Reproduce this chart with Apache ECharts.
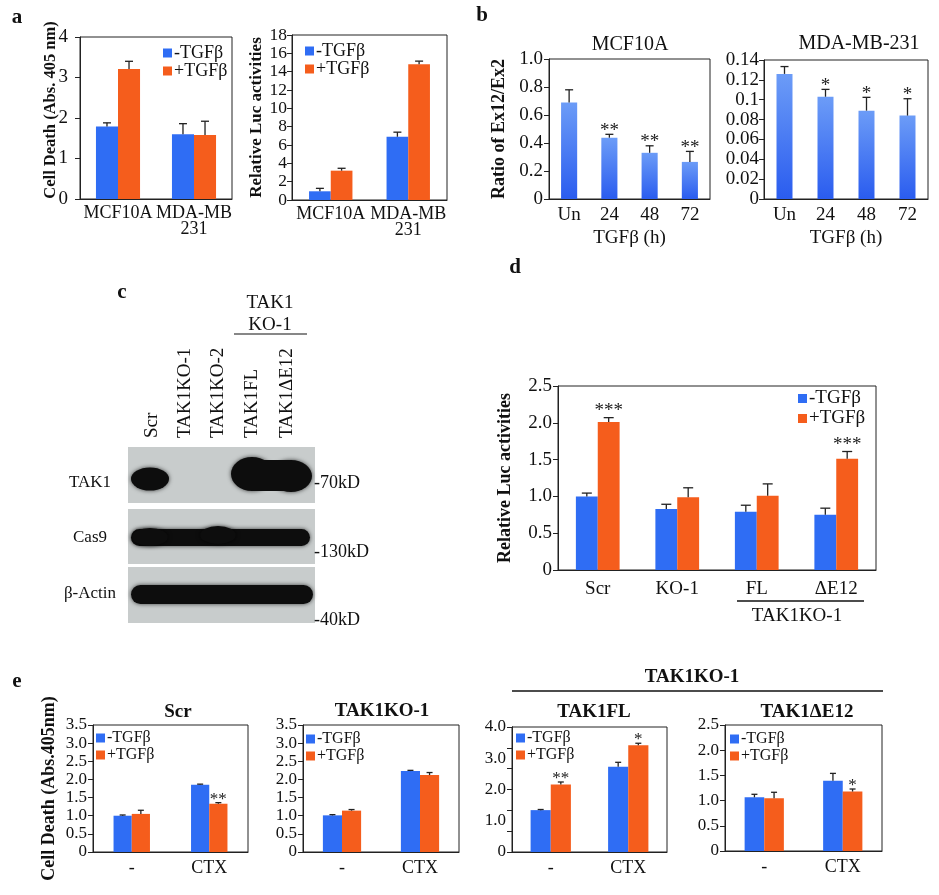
<!DOCTYPE html>
<html><head><meta charset="utf-8">
<script src="https://cdn.jsdelivr.net/npm/echarts@6/dist/echarts.min.js"></script>
<style>html,body{margin:0;padding:0;background:#fff}#c{width:939px;height:895px}</style>
</head><body><div id="c"></div>
<script>
const FONT = '"Liberation Serif","Times New Roman",serif';
const BLUE = '#2f6df4', ORANGE = '#f55d1c';
const LEG = ['-TGFβ', '+TGFβ'];

// ---- panel a ----
const aCats = ['MCF10A', 'MDA-MB\n231'];
const aDeathMinus = [1.79, 1.60], aDeathMinusErr = [0.09, 0.26];
const aDeathPlus = [3.21, 1.58], aDeathPlusErr = [0.19, 0.34];
const aLucMinus = [0.95, 6.9], aLucMinusErr = [0.32, 0.5];
const aLucPlus = [3.2, 14.8], aLucPlusErr = [0.26, 0.35];
// ---- panel b ----
const bCats = ['Un', '24', '48', '72'];
const bMcf = [0.69, 0.438, 0.33, 0.265], bMcfErr = [0.09, 0.024, 0.05, 0.075], bMcfSig = ['', '**', '**', '**'];
const bMda = [0.126, 0.103, 0.089, 0.084], bMdaErr = [0.0074, 0.0074, 0.0134, 0.017], bMdaSig = ['', '*', '*', '*'];
// ---- panel c ----
const cLanes = ['Scr', 'TAK1KO-1', 'TAK1KO-2', 'TAK1FL', 'TAK1ΔE12'];
const cRows = ['TAK1', 'Cas9', 'β-Actin'];
const cSizes = ['-70kD', '-130kD', '-40kD'];
// ---- panel d ----
const dCats = ['Scr', 'KO-1', 'FL', 'ΔE12'];
const dMinus = [1.0, 0.83, 0.79, 0.75], dMinusErr = [0.045, 0.063, 0.09, 0.09];
const dPlus = [2.01, 0.99, 1.01, 1.51], dPlusErr = [0.06, 0.127, 0.16, 0.1], dPlusSig = ['***', '', '', '***'];
// ---- panel e ----
const eCats = ['-', 'CTX'];
const eScrMinus = [1.0, 1.85], eScrMinusErr = [0.02, 0.02];
const eScrPlus = [1.05, 1.33], eScrPlusErr = [0.1, 0.03], eScrSig = ['', '**'];
const eKoMinus = [1.01, 2.23], eKoMinusErr = [0.02, 0.02];
const eKoPlus = [1.14, 2.12], eKoPlusErr = [0.03, 0.07];
const eFlMinus = [1.34, 2.73], eFlMinusErr = [0.02, 0.14];
const eFlPlus = [2.16, 3.42], eFlPlusErr = [0.08, 0.06], eFlSig = ['**', '*'];
const eDeMinus = [1.065, 1.395], eDeMinusErr = [0.06, 0.145];
const eDePlus = [1.045, 1.18], eDePlusErr = [0.12, 0.05], eDeSig = ['', '*'];

const fmt1 = v => v === 0 ? '0' : v.toFixed(1);

const opt = {animation: false, backgroundColor: '#fff', grid: [], xAxis: [], yAxis: [], series: [], legend: [], graphic: []};

function errRender(idx, n, gap, sigs, cap, starSize, starOff) {
  return function (params, api) {
    const k = api.value(0), v = api.value(1), e = api.value(2);
    const p0 = api.coord([k, v]), p1 = api.coord([k, v + e]);
    const band = api.size([1, 0])[0];
    const bw = band * (1 - gap) / n;
    const x = p0[0] + (idx - (n - 1) / 2) * bw;
    const ch = [];
    if (e > 0) {
      ch.push({type: 'line', shape: {x1: x, y1: p0[1], x2: x, y2: p1[1]}, style: {stroke: '#222', lineWidth: 1.3}});
      ch.push({type: 'line', shape: {x1: x - cap, y1: p1[1], x2: x + cap, y2: p1[1]}, style: {stroke: '#222', lineWidth: 1.3}});
    }
    const sig = sigs && sigs[params.dataIndex];
    if (sig) ch.push({type: 'text', x: x, y: p1[1] + starOff, style: {text: sig, fontSize: starSize, fontFamily: FONT, fill: '#222', align: 'center', verticalAlign: 'bottom'}});
    return {type: 'group', children: ch};
  };
}

function panel(p) {
  const gi = opt.grid.length;
  opt.grid.push(Object.assign({show: true, borderColor: '#222', borderWidth: 1, backgroundColor: 'transparent'}, p.grid));
  const xi = opt.xAxis.length;
  opt.xAxis.push({
    type: 'category', gridIndex: gi, data: p.cats,
    axisLine: {lineStyle: {color: '#222', width: 1}},
    axisTick: {length: 5, lineStyle: {color: '#222'}},
    axisLabel: {color: '#111', fontFamily: FONT, fontSize: p.xSize, margin: p.xMargin, lineHeight: p.xSize - 2, interval: 0, hideOverlap: false},
    name: p.xName || '', nameLocation: 'middle', nameGap: p.xNameGap || 0,
    nameTextStyle: {color: '#111', fontFamily: FONT, fontSize: p.xSize}
  });
  const yi = opt.yAxis.length;
  opt.yAxis.push({
    type: 'value', gridIndex: gi, min: p.yMin, max: p.yMax, interval: p.yInt, position: 'left',
    splitLine: {show: false},
    axisLine: {show: true, lineStyle: {color: '#222', width: 1}},
    axisTick: {show: !p.tickAxis, length: 5, lineStyle: {color: '#222'}},
    axisLabel: {color: '#111', fontFamily: FONT, fontSize: p.ySize, margin: p.yMargin, formatter: p.yFmt, hideOverlap: false},
    name: p.yName || '', nameLocation: 'middle', nameRotate: 90, nameGap: p.yNameGap || 0, nameMoveOverlap: false,
    nameTextStyle: {color: '#111', fontFamily: FONT, fontWeight: 'bold', fontSize: p.yNameSize || 15, padding: p.yNamePad || 0}
  });
  if (p.tickAxis) {
    opt.yAxis.push({
      type: 'value', gridIndex: gi, min: p.yMin, max: p.yMax, interval: p.tickAxis, position: 'left',
      splitLine: {show: false}, axisLabel: {show: false},
      axisLine: {show: true, lineStyle: {color: '#222', width: 1}},
      axisTick: {show: true, length: 5, lineStyle: {color: '#222'}}
    });
  }
  const n = p.series.length;
  p.series.forEach((s, idx) => {
    opt.series.push({type: 'bar', name: s.name, xAxisIndex: xi, yAxisIndex: yi, data: s.values,
      barGap: '0%', barCategoryGap: p.gap + '%', itemStyle: {color: s.color}, silent: true});
    opt.series.push({type: 'custom', name: 'err', xAxisIndex: xi, yAxisIndex: yi,
      data: s.values.map((v, k) => [k, v, s.errs[k]]),
      renderItem: errRender(idx, n, p.gap / 100, s.sigs, p.cap, p.starSize || 18, p.starOff == null ? 5 : p.starOff), z: 5, silent: true});
  });
  if (p.legend) {
    opt.legend.push({
      orient: 'vertical', data: LEG, icon: 'rect', itemWidth: 9, itemHeight: 9, itemGap: p.legend.gap,
      padding: 0, left: p.legend.left, top: p.legend.top, selectedMode: false,
      textStyle: {fontFamily: FONT, fontSize: p.legend.size, color: '#111', lineHeight: p.legend.lh, padding: [0, 0, 0, -3]}
    });
  }
}

const gradBlue = {type: 'linear', x: 0, y: 0, x2: 0, y2: 1, colorStops: [{offset: 0, color: '#6c9cf7'}, {offset: 1, color: '#2a5cef'}]};

// a left
panel({grid: {left: 80, top: 37, width: 152, height: 162}, cats: aCats, yMin: 0, yMax: 4, yInt: 1,
  ySize: 19, yMargin: 12, xSize: 18, xMargin: 6, yName: 'Cell Death (Abs. 405 nm)', yNameGap: 21, yNameSize: 16.5, yNamePad: [0, 0, 0, 16],
  gap: 42, cap: 4,
  series: [{name: LEG[0], values: aDeathMinus, errs: aDeathMinusErr, color: BLUE},
           {name: LEG[1], values: aDeathPlus, errs: aDeathPlusErr, color: ORANGE}],
  legend: {left: 163, top: 44, size: 18, lh: 15, gap: 0}});
// a right
panel({grid: {left: 292, top: 35, width: 155, height: 165}, cats: aCats, yMin: 0, yMax: 18, yInt: 2,
  ySize: 17.5, yMargin: 5, xSize: 18, xMargin: 6, yName: 'Relative Luc activities', yNameGap: 27, yNameSize: 17,
  gap: 44, cap: 4,
  series: [{name: LEG[0], values: aLucMinus, errs: aLucMinusErr, color: BLUE},
           {name: LEG[1], values: aLucPlus, errs: aLucPlusErr, color: ORANGE}],
  legend: {left: 305, top: 42, size: 18, lh: 15, gap: 0}});
// b left
panel({grid: {left: 549, top: 59, width: 161, height: 140}, cats: bCats, yMin: 0, yMax: 1, yInt: 0.2, yFmt: fmt1,
  ySize: 19, yMargin: 6, xSize: 19, xMargin: 8, yName: 'Ratio of Ex12/Ex2', yNameGap: 41, yNameSize: 18,
  xName: 'TGFβ (h)', xNameGap: 30, gap: 60, cap: 4, starSize: 19, starOff: 6,
  series: [{name: 'MCF10A', values: bMcf, errs: bMcfErr, sigs: bMcfSig, color: gradBlue}]});
// b right
panel({grid: {left: 764, top: 60, width: 164, height: 139}, cats: bCats, yMin: 0, yMax: 0.14, yInt: 0.02,
  ySize: 19, yMargin: 5, xSize: 19, xMargin: 8,
  xName: 'TGFβ (h)', xNameGap: 30, gap: 61, cap: 4, starSize: 19, starOff: 6,
  series: [{name: 'MDA-MB-231', values: bMda, errs: bMdaErr, sigs: bMdaSig, color: gradBlue}]});
// d
panel({grid: {left: 558, top: 386, width: 318, height: 184}, cats: dCats, yMin: 0, yMax: 2.5, yInt: 0.5, yFmt: fmt1,
  ySize: 19, yMargin: 6, xSize: 19, xMargin: 11, yName: 'Relative Luc activities', yNameGap: 44, yNameSize: 18,
  gap: 45, cap: 5, starSize: 19, starOff: 3,
  series: [{name: LEG[0], values: dMinus, errs: dMinusErr, color: BLUE},
           {name: LEG[1], values: dPlus, errs: dPlusErr, sigs: dPlusSig, color: ORANGE}],
  legend: {left: 798, top: 389, size: 19, lh: 18, gap: 1}});
// e1
panel({grid: {left: 93, top: 725, width: 155, height: 127}, cats: eCats, yMin: 0, yMax: 3.5, yInt: 0.5, yFmt: fmt1,
  ySize: 17, yMargin: 6, xSize: 18, xMargin: 8, yName: 'Cell Death (Abs.405nm)', yNameGap: 35, yNameSize: 18,
  gap: 53, cap: 3, starSize: 17,
  series: [{name: LEG[0], values: eScrMinus, errs: eScrMinusErr, color: BLUE},
           {name: LEG[1], values: eScrPlus, errs: eScrPlusErr, sigs: eScrSig, color: ORANGE}],
  legend: {left: 96, top: 730, size: 16, lh: 15, gap: 1}});
// e2
panel({grid: {left: 303, top: 725, width: 156, height: 127}, cats: eCats, yMin: 0, yMax: 3.5, yInt: 0.5, yFmt: fmt1,
  ySize: 17, yMargin: 6, xSize: 18, xMargin: 8, gap: 51, cap: 3, starSize: 17,
  series: [{name: LEG[0], values: eKoMinus, errs: eKoMinusErr, color: BLUE},
           {name: LEG[1], values: eKoPlus, errs: eKoPlusErr, color: ORANGE}],
  legend: {left: 306, top: 731, size: 16, lh: 15, gap: 1}});
// e3
panel({grid: {left: 512, top: 727, width: 155, height: 125}, cats: eCats, yMin: 0, yMax: 4, yInt: 1, yFmt: fmt1,
  tickAxis: 4 / 6,
  ySize: 17, yMargin: 6, xSize: 18, xMargin: 8, gap: 48, cap: 3, starSize: 17,
  series: [{name: LEG[0], values: eFlMinus, errs: eFlMinusErr, color: BLUE},
           {name: LEG[1], values: eFlPlus, errs: eFlPlusErr, sigs: eFlSig, color: ORANGE}],
  legend: {left: 516, top: 730, size: 16, lh: 15, gap: 1}});
// e4
panel({grid: {left: 725, top: 725, width: 157, height: 126}, cats: eCats, yMin: 0, yMax: 2.5, yInt: 0.5, yFmt: fmt1,
  ySize: 17, yMargin: 6, xSize: 18, xMargin: 8, gap: 50, cap: 3, starSize: 17,
  series: [{name: LEG[0], values: eDeMinus, errs: eDeMinusErr, color: BLUE},
           {name: LEG[1], values: eDePlus, errs: eDePlusErr, sigs: eDeSig, color: ORANGE}],
  legend: {left: 730, top: 731, size: 16, lh: 15, gap: 1}});

// ---- graphic annotations ----
const G = opt.graphic;
function T(x, y, text, size, bold, align, va, rot) {
  G.push({type: 'text', x: x, y: y, rotation: rot || 0, silent: true,
    style: {text: text, fontSize: size, fontWeight: bold ? 'bold' : 'normal', fontFamily: FONT, fill: '#111',
      align: align || 'center', verticalAlign: va || 'middle'}});
}
function L(x1, y1, x2, y2, w) {
  G.push({type: 'line', silent: true, shape: {x1: x1, y1: y1, x2: x2, y2: y2}, style: {stroke: '#111', lineWidth: w || 1.3}});
}
// panel letters
T(17, 18, 'a', 21, true); T(482, 16, 'b', 21, true); T(122, 293, 'c', 21, true); T(515, 268, 'd', 21, true); T(17, 682, 'e', 21, true);
// b titles
T(630, 45, 'MCF10A', 20); T(859, 44, 'MDA-MB-231', 20);
// d group label
L(737, 601, 864, 601); T(797, 616, 'TAK1KO-1', 19);
// e titles
T(178, 712, 'Scr', 19, true); T(382, 711, 'TAK1KO-1', 19, true); T(594, 712, 'TAK1FL', 19, true); T(807, 712, 'TAK1ΔE12', 19, true);
T(692, 677, 'TAK1KO-1', 19, true); L(512, 691, 883, 691, 1.6);

// ---- panel c (western blot image drawn with shapes) ----
const blotBg = '#c8cccc', band = '#0d0d0d';
[[447, 56], [509, 55], [567, 56]].forEach(r => G.push({type: 'rect', silent: true, shape: {x: 128, y: r[0], width: 187, height: r[1]}, style: {fill: blotBg}}));
function blob(cx, cy, rx, ry) {
  G.push({type: 'circle', silent: true, x: cx, y: cy, scaleX: rx / ry, shape: {cx: 0, cy: 0, r: ry},
    style: {fill: band, shadowBlur: 4, shadowColor: 'rgba(0,0,0,0.7)'}});
}
function bar(x, y, w, h) {
  G.push({type: 'rect', silent: true, shape: {x: x, y: y, width: w, height: h, r: h / 2},
    style: {fill: band, shadowBlur: 4, shadowColor: 'rgba(0,0,0,0.7)'}});
}
blob(150, 479, 19, 11.5);
blob(252, 474, 21, 17); blob(291, 476, 21, 16);
G.push({type: 'rect', silent: true, shape: {x: 252, y: 460, width: 39, height: 31}, style: {fill: band}});
bar(131, 529, 179, 17); blob(218, 535, 18, 9); blob(150, 537, 18, 9);
bar(131, 585, 182, 19);
const laneX = [152, 185, 218, 252, 287];
cLanes.forEach((t, i) => T(laneX[i], 438, t, 19, false, 'left', 'middle', Math.PI / 2));
T(270, 303, 'TAK1', 19); T(270, 325, 'KO-1', 19); L(234, 334, 307, 334, 1.2);
const rowY = [483, 538, 594];
cRows.forEach((t, i) => T(90, rowY[i], t, 17));
const sizeY = [483, 552, 620];
cSizes.forEach((t, i) => T(314, sizeY[i], t, 18, false, 'left'));

const chart = echarts.init(document.getElementById('c'), null, {renderer: 'canvas'});
chart.setOption(opt);
</script></body></html>
